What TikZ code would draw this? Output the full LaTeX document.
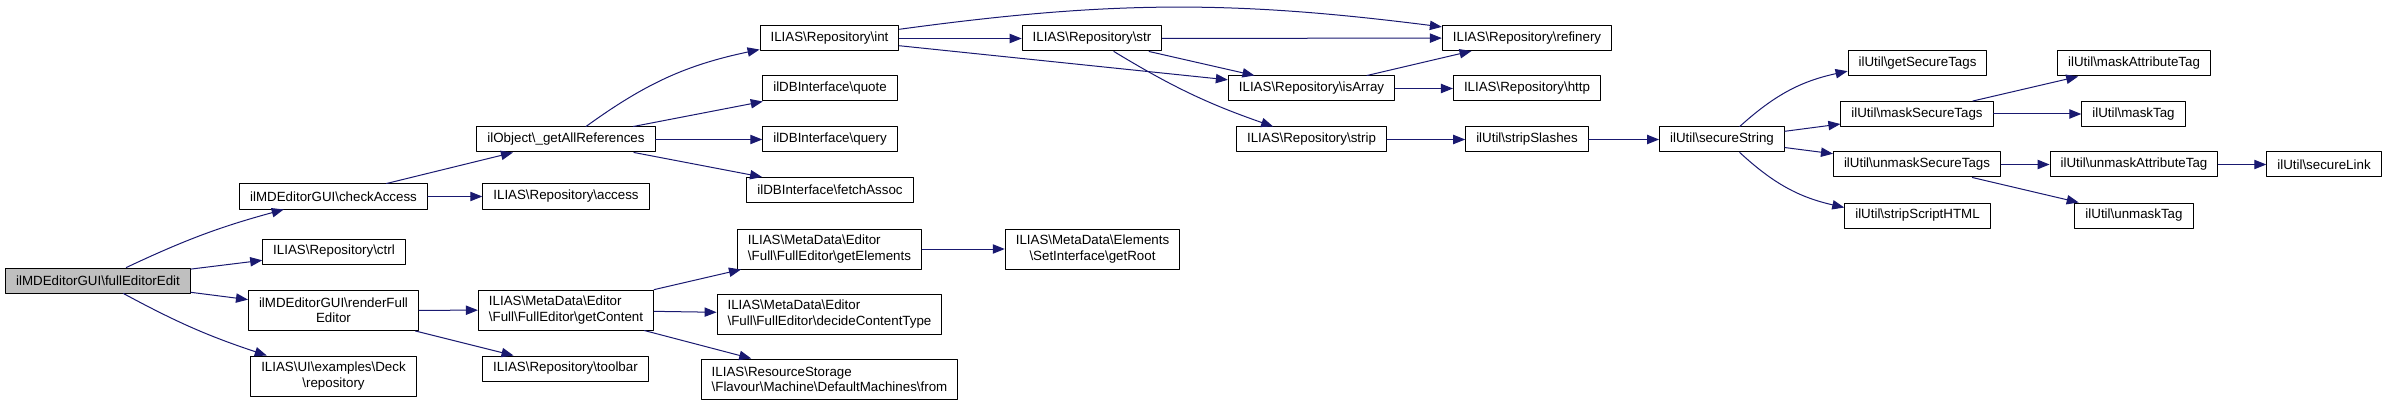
\documentclass[tikz,border=0pt]{standalone}
\usepackage{fontspec}
\setmainfont{Liberation Sans}
\usepackage{tikz}
\usetikzlibrary{arrows.meta,positioning}
\definecolor{callblue}{HTML}{191970}
\newcommand{\bs}{\textbackslash}

\begin{document}
\begin{tikzpicture}[x=0.75pt,y=0.75pt,line cap=round,line join=round,
    fnbox/.style={draw=black,fill=white,line width=0.75pt,inner xsep=7.9pt,inner ysep=0pt,
        minimum height=18.75pt,font=\fontsize{10}{11.5}\selectfont},
    fnboxtwo/.style={fnbox,minimum height=30pt,align=center},
    fnboxleft/.style={fnbox,minimum height=30pt,align=left},
    callarrow/.style={draw=callblue,line width=0.75pt,-{Triangle[length=9pt,width=7pt]}}]
            \useasboundingbox (0,0) rectangle (2387,-406);

            % --- Nodes ---
            \node[fnbox,fill=black!25] (fullEdit) at (98,-280.5) {ilMDEditorGUI\bs fullEditorEdit};

            \node[fnbox] (checkAcc) at (333.5,-196.5) {ilMDEditorGUI\bs checkAccess};
            \node[fnbox] (repoCtrl) at (334,-251.5) {ILIAS\bs Repository\bs ctrl};
            \node[fnboxtwo] (renderFull) at (333.5,-310.5) {ilMDEditorGUI\bs renderFull\\Editor};
            \node[fnboxtwo] (deckRepo) at (333.5,-376) {ILIAS\bs UI\bs examples\bs Deck\\\bs repository};

            \node[fnbox] (getAllRefs) at (566,-139.5) {ilObject\bs\_getAllReferences};
            \node[fnbox] (repoAccess) at (566,-196.5) {ILIAS\bs Repository\bs access};
            \node[fnboxleft] (getContent) at (566,-310) {ILIAS\bs MetaData\bs Editor\\\bs Full\bs FullEditor\bs getContent};
            \node[fnbox] (repoToolbar) at (565.5,-368.5) {ILIAS\bs Repository\bs toolbar};

            \node[fnbox] (repoInt) at (829.5,-38.5) {ILIAS\bs Repository\bs int};
            \node[fnbox] (dbQuote) at (830,-88.5) {ilDBInterface\bs quote};
            \node[fnbox] (dbQuery) at (830,-139.5) {ilDBInterface\bs query};
            \node[fnbox] (dbFetch) at (830,-190) {ilDBInterface\bs fetchAssoc};
            \node[fnboxleft] (getElements) at (829.5,-249) {ILIAS\bs MetaData\bs Editor\\\bs Full\bs FullEditor\bs getElements};
            \node[fnboxleft] (decideType) at (829.5,-314) {ILIAS\bs MetaData\bs Editor\\\bs Full\bs FullEditor\bs decideContentType};
            \node[fnboxleft] (machFrom) at (829.5,-379) {ILIAS\bs ResourceStorage\\\bs Flavour\bs Machine\bs DefaultMachines\bs from};

            \node[fnboxtwo] (getRoot) at (1092.5,-249) {ILIAS\bs MetaData\bs Elements\\\bs SetInterface\bs getRoot};
            \node[fnbox] (repoStr) at (1092,-38.5) {ILIAS\bs Repository\bs str};

            \node[fnbox] (isArray) at (1311.5,-88.5) {ILIAS\bs Repository\bs isArray};
            \node[fnbox] (repoStrip) at (1311.5,-139.5) {ILIAS\bs Repository\bs strip};

            \node[fnbox] (refinery) at (1527,-38) {ILIAS\bs Repository\bs refinery};
            \node[fnbox] (repoHttp) at (1527,-88.5) {ILIAS\bs Repository\bs http};
            \node[fnbox] (stripSlashes) at (1527,-139.5) {ilUtil\bs stripSlashes};

            \node[fnbox] (secureString) at (1722,-139.5) {ilUtil\bs secureString};

            \node[fnbox] (getSecure) at (1917.5,-63.5) {ilUtil\bs getSecureTags};
            \node[fnbox] (maskSecure) at (1917,-114) {ilUtil\bs maskSecureTags};
            \node[fnbox] (unmaskSecure) at (1917,-164.5) {ilUtil\bs unmaskSecureTags};
            \node[fnbox] (stripScript) at (1917.5,-215.5) {ilUtil\bs stripScriptHTML};

            \node[fnbox] (maskAttr) at (2134,-63.5) {ilUtil\bs maskAttributeTag};
            \node[fnbox] (maskTag) at (2133.5,-114) {ilUtil\bs maskTag};
            \node[fnbox] (unmaskAttr) at (2134,-164.5) {ilUtil\bs unmaskAttributeTag};
            \node[fnbox] (unmaskTag) at (2134,-215.5) {ilUtil\bs unmaskTag};

            \node[fnbox] (secureLink) at (2324,-164.5) {ilUtil\bs secureLink};

            % --- Calls ---
            \draw[callarrow] (fullEdit) to[bend left=5] (checkAcc);
            \draw[callarrow] (fullEdit) -- (repoCtrl);
            \draw[callarrow] (fullEdit) -- (renderFull);
            \draw[callarrow] (fullEdit) to[bend right=5] (deckRepo);

            \draw[callarrow] (checkAcc) -- (getAllRefs);
            \draw[callarrow] (checkAcc) -- (repoAccess);
            \draw[callarrow] (renderFull) -- (getContent);
            \draw[callarrow] (renderFull) -- (repoToolbar);

            \draw[callarrow] (getAllRefs) to[bend left=12] (repoInt);
            \draw[callarrow] (getAllRefs) -- (dbQuote);
            \draw[callarrow] (getAllRefs) -- (dbQuery);
            \draw[callarrow] (getAllRefs) -- (dbFetch);

            \draw[callarrow] (getContent) -- (getElements);
            \draw[callarrow] (getContent) -- (decideType);
            \draw[callarrow] (getContent) -- (machFrom);
            \draw[callarrow] (getElements) -- (getRoot);

            % Repository helpers
            \draw[callarrow] (repoInt) -- (repoStr);
            \draw[callarrow] (repoInt) to[bend left=7.5] (refinery);
            \draw[callarrow] (repoInt) -- (isArray);
            \draw[callarrow] (repoStr) -- (refinery);
            \draw[callarrow] (repoStr) -- (isArray);
            \draw[callarrow] (repoStr) to[bend right=6] (repoStrip);
            \draw[callarrow] (isArray) -- (refinery);
            \draw[callarrow] (isArray) -- (repoHttp);
            \draw[callarrow] (repoStrip) -- (stripSlashes);
            \draw[callarrow] (stripSlashes) -- (secureString);

            % ilUtil chain
            \draw[callarrow] (secureString) to[bend left=15] (getSecure);
            \draw[callarrow] (secureString) -- (maskSecure);
            \draw[callarrow] (secureString) -- (unmaskSecure);
            \draw[callarrow] (secureString) to[bend right=15] (stripScript);
            \draw[callarrow] (maskSecure) -- (maskAttr);
            \draw[callarrow] (maskSecure) -- (maskTag);
            \draw[callarrow] (unmaskSecure) -- (unmaskAttr);
            \draw[callarrow] (unmaskSecure) -- (unmaskTag);
            \draw[callarrow] (unmaskAttr) -- (secureLink);

        \end{tikzpicture}
\end{document}
